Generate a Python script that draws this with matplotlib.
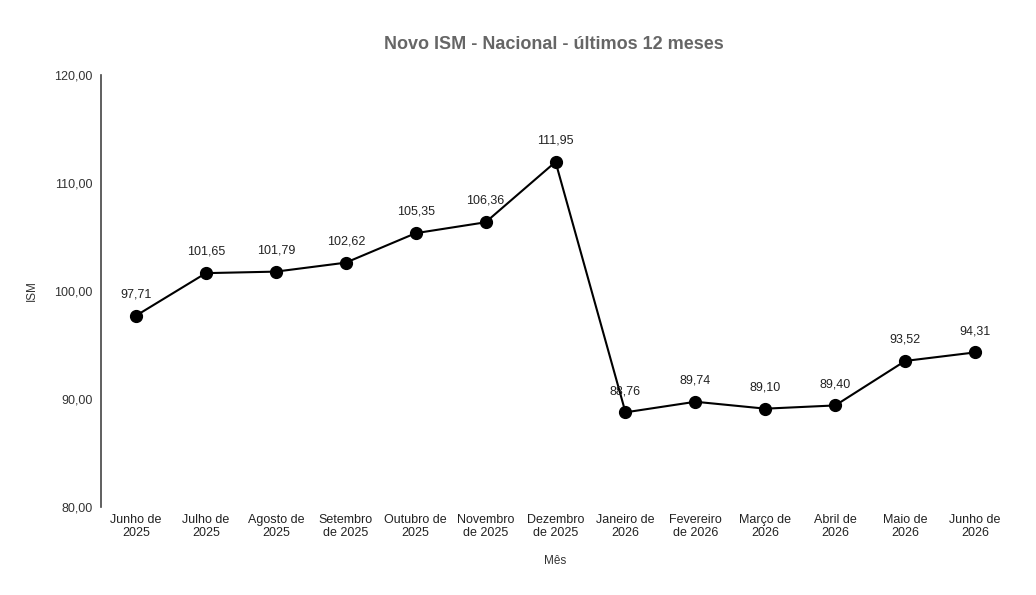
import matplotlib.pyplot as plt

plt.rcParams['font.family'] = ['Liberation Sans', 'DejaVu Sans']

meses = ["Junho de\n2025", "Julho de\n2025", "Agosto de\n2025", "Setembro\nde 2025",
         "Outubro de\n2025", "Novembro\nde 2025", "Dezembro\nde 2025", "Janeiro de\n2026",
         "Fevereiro\nde 2026", "Março de\n2026", "Abril de\n2026", "Maio de\n2026",
         "Junho de\n2026"]
ism = [97.71, 101.65, 101.79, 102.62, 105.35, 106.36, 111.95,
       88.76, 89.74, 89.10, 89.40, 93.52, 94.31]
y_ticks = [80, 90, 100, 110, 120]

fig = plt.figure(figsize=(10.36, 5.95), dpi=100)
ax = fig.add_axes([0.0975, 0.148, 0.8775, 0.726])

x = list(range(len(meses)))
ax.plot(x, ism, color='black', linewidth=1.5, marker='o', markersize=8.5)

# rótulos dos pontos
for i in x:
    ax.annotate(f"{ism[i]:.2f}".replace('.', ','), (i, ism[i]),
                xytext=(0, 11), textcoords='offset points',
                ha='center', va='bottom', fontsize=9, color='#222222')

ax.set_xlim(-0.5, len(meses) - 0.5)
ax.set_ylim(80, 120)
ax.set_yticks(y_ticks)
ax.set_yticklabels([f"{v:.2f}".replace('.', ',') for v in y_ticks], fontsize=9, color='#333333')
ax.set_xticks(x)
ax.set_xticklabels(meses, fontsize=9, color='#222222', linespacing=1.1)

ax.tick_params(axis='both', length=0)
ax.tick_params(axis='y', pad=6)
ax.tick_params(axis='x', pad=5)

for s in ['top', 'right', 'bottom']:
    ax.spines[s].set_visible(False)
ax.spines['left'].set_color('#444444')
ax.spines['left'].set_linewidth(1.2)

ax.set_xlabel("Mês", fontsize=8.5, color='#333333', labelpad=12)
ax.set_ylabel("ISM", fontsize=8.5, color='#333333', labelpad=12)
fig.suptitle("Novo ISM - Nacional - últimos 12 meses", x=0.535, y=0.94,
             fontsize=13, fontweight='bold', color='#666666')

fig.savefig("out.png", dpi=100)
